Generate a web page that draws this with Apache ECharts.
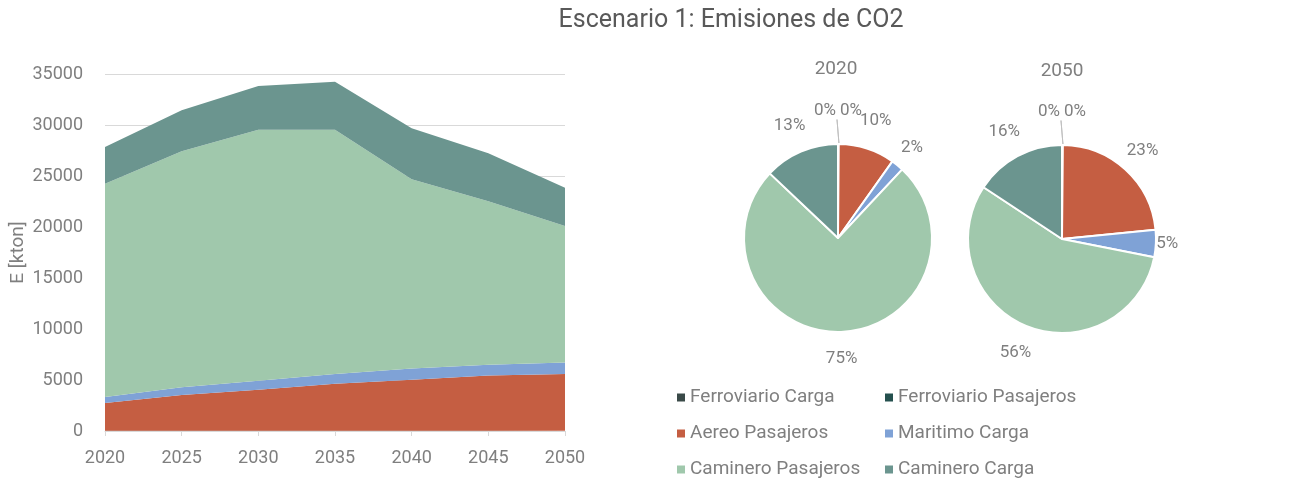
<!DOCTYPE html>
<html>
<head>
<meta charset="utf-8">
<title>Escenario 1: Emisiones de CO2</title>
<script src="https://cdn.jsdelivr.net/npm/echarts@6/dist/echarts.min.js"></script>
<style>
  html, body { margin: 0; padding: 0; background: #fff; }
  #main { width: 1289px; height: 478px; }
</style>
</head>
<body>
<div id="main"></div>
<script>
var years = ["2020", "2025", "2030", "2035", "2040", "2045", "2050"];
var yTicks = [0, 5000, 10000, 15000, 20000, 25000, 30000, 35000];

// emisiones por modo [kton]
var ferroviarioCarga = [20, 20, 20, 20, 20, 20, 20];
var ferroviarioPasajeros = [15, 15, 15, 15, 15, 15, 15];
var aereoPasajeros = [2700, 3500, 4000, 4600, 5000, 5400, 5550];
var maritimoCarga = [600, 750, 900, 950, 1100, 1050, 1120];
var camineroPasajeros = [20900, 23150, 24600, 23950, 18550, 16050, 13400];
var camineroCarga = [3600, 4000, 4300, 4700, 5000, 4700, 3750];

var names = ["Ferroviario Carga", "Ferroviario Pasajeros", "Aereo Pasajeros",
             "Maritimo Carga", "Caminero Pasajeros", "Caminero Carga"];
var colors = ["#3a4a48", "#24504e", "#c55e42", "#7fa2d6", "#a0c8ac", "#6b958f"];
var values = [ferroviarioCarga, ferroviarioPasajeros, aereoPasajeros,
              maritimoCarga, camineroPasajeros, camineroCarga];

var font = "Roboto";
var gray = "#7f7f7f";
var pieR = 94;

var chart = echarts.init(document.getElementById("main"));

var series = [];
names.forEach(function (n, i) {
  series.push({
    name: n,
    type: "line",
    stack: "total",
    data: values[i],
    symbol: "none",
    lineStyle: { width: 0 },
    itemStyle: { color: colors[i] },
    areaStyle: { color: colors[i], opacity: 1 }
  });
});

function pieData(idx) {
  return names.map(function (n, i) {
    var item = { name: n, value: values[i][idx], itemStyle: { color: colors[i] } };
    if (i < 2) {
      item.labelLine = { show: true };
    }
    return item;
  });
}

// etiquetas estilo Excel: fuera del sector, centradas sobre el angulo medio
function pieLabelLayout(idx, cx, cy) {
  var vals = values.map(function (a) { return a[idx]; });
  var total = vals.reduce(function (s, v) { return s + v; }, 0);
  return function (p) {
    var i = p.dataIndex;
    var start = 0;
    for (var k = 0; k < i; k++) start += vals[k];
    var w = p.labelRect.width, h = p.labelRect.height;
    if (vals[i] / total < 0.005) {
      var ly = cy - 127;
      var lx = i === 0 ? cx - w / 2 - 2 : cx + w / 2 + 2;
      return {
        x: lx, y: ly, align: "center", verticalAlign: "middle",
        labelLinePoints: [[cx + 1, cy - pieR], [cx - 1, ly + h / 2], [cx - 1, ly + h / 2]]
      };
    }
    var a = (start + vals[i] / 2) / total * Math.PI * 2;
    var ux = Math.sin(a), uy = -Math.cos(a);
    var t = 1 / Math.sqrt(Math.pow(ux / 85, 2) + Math.pow(uy / 103, 2));
    var d = t + 9 + Math.abs(ux) * w / 2 + Math.abs(uy) * h / 2;
    return { x: cx + ux * d, y: cy + uy * d, align: "center", verticalAlign: "middle" };
  };
}

function pieSeries(idx, cx, cy) {
  return {
    type: "pie",
    name: years[idx],
    center: [cx, cy],
    radius: pieR,
    startAngle: 90,
    clockwise: true,
    avoidLabelOverlap: false,
    data: pieData(idx),
    itemStyle: { borderColor: "#fff", borderWidth: 2 },
    label: {
      show: true,
      position: "outside",
      color: gray,
      fontFamily: font,
      fontSize: 17,
      formatter: function (p) { return Math.round(p.percent) + "%"; }
    },
    labelLine: { show: false, length: 10, length2: 0, lineStyle: { color: "#bfbfbf" } },
    labelLayout: pieLabelLayout(idx, cx, cy)
  };
}

series.push(pieSeries(0, 838, 238));
series.push(pieSeries(6, 1062, 239));

var legendText = { color: gray, fontFamily: font, fontSize: 19, lineHeight: 18 };

chart.setOption({
  animation: false,
  title: [
    { text: "Escenario 1: Emisiones de CO2", left: 731, top: 8, padding: 0, textAlign: "center",
      textStyle: { color: "#595959", fontFamily: font, fontSize: 25, fontWeight: "normal" } },
    { text: years[0], left: 836, top: 60, padding: 0, textAlign: "center",
      textStyle: { color: gray, fontFamily: font, fontSize: 19, fontWeight: "normal" } },
    { text: years[6], left: 1062, top: 62, padding: 0, textAlign: "center",
      textStyle: { color: gray, fontFamily: font, fontSize: 19, fontWeight: "normal" } }
  ],
  legend: [
    { data: [names[0], names[2], names[4]], orient: "vertical", left: 677, top: 388,
      width: 200, height: 100,
      padding: 0, icon: "rect", itemWidth: 8, itemHeight: 8, itemGap: 17,
      textStyle: legendText },
    { data: [names[1], names[3], names[5]], orient: "vertical", left: 885, top: 388,
      width: 200, height: 100,
      padding: 0, icon: "rect", itemWidth: 8, itemHeight: 8, itemGap: 17,
      textStyle: legendText }
  ],
  grid: { left: 105, width: 460, top: 74, height: 357 },
  xAxis: {
    type: "category",
    data: years,
    boundaryGap: false,
    axisLine: { lineStyle: { color: "#d9d9d9" } },
    axisTick: { show: true, length: 5, lineStyle: { color: "#d9d9d9" } },
    axisLabel: { color: gray, fontFamily: font, fontSize: 18, margin: 18 }
  },
  yAxis: {
    type: "value",
    min: yTicks[0],
    max: yTicks[yTicks.length - 1],
    interval: yTicks[1] - yTicks[0],
    name: "E [kton]",
    nameLocation: "middle",
    nameGap: 77,
    nameTextStyle: { color: gray, fontFamily: font, fontSize: 19 },
    axisLine: { show: false },
    axisTick: { show: false },
    axisLabel: { color: gray, fontFamily: font, fontSize: 18, margin: 22,
      formatter: function (v) { return String(v); } },
    splitLine: { lineStyle: { color: "#d9d9d9" } }
  },
  series: series
});
</script>
</body>
</html>
